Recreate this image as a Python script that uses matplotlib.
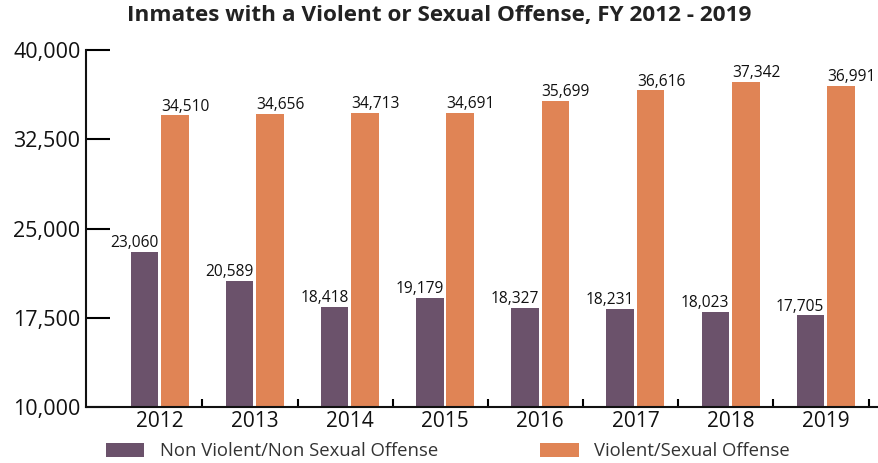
import matplotlib
matplotlib.use("Agg")
import matplotlib.pyplot as plt
import numpy as np

years = ["2012", "2013", "2014", "2015", "2016", "2017", "2018", "2019"]
non_violent = [23060, 20589, 18418, 19179, 18327, 18231, 18023, 17705]
violent = [34510, 34656, 34713, 34691, 35699, 36616, 37342, 36991]
y_ticks = [10000, 17500, 25000, 32500, 40000]

purple = "#6B526B"
orange = "#E08455"

plt.rcParams["font.family"] = ["Open Sans", "DejaVu Sans"]

fig = plt.figure(figsize=(8.79, 4.63), dpi=100)
ax = fig.add_axes([86 / 879, 1 - 407 / 463, 1 - 86 / 879, (407 - 50) / 463])

x = np.arange(len(years))
w = 0.29
gap = 0.015
b1 = ax.bar(x - w / 2 - gap, non_violent, width=w, color=purple,
            label="Non Violent/Non Sexual Offense", zorder=2)
b2 = ax.bar(x + w / 2 + gap, violent, width=w, color=orange,
            label="Violent/Sexual Offense", zorder=2)

for rect, v in zip(b1, non_violent):
    ax.annotate(f"{v:,}", (rect.get_x() + rect.get_width(), v),
                xytext=(0, 0.5), textcoords="offset points",
                ha="right", va="bottom", fontsize=11.2, color="#111111")
for rect, v in zip(b2, violent):
    ax.annotate(f"{v:,}", (rect.get_x(), v),
                xytext=(0, 0.5), textcoords="offset points",
                ha="left", va="bottom", fontsize=11.2, color="#111111",
                annotation_clip=False)

ax.set_ylim(10000, 40000)
ax.set_xlim(-0.773, 7.56)
ax.set_yticks(y_ticks)
ax.set_yticklabels([f"{t:,}" for t in y_ticks], fontsize=15.5, color="#111111")
ax.tick_params(axis="y", direction="in", length=17, width=1.5, pad=4)

# group separators as major ticks, year labels as minor ticks
ax.set_xticks(x + 0.45)
ax.set_xticklabels([])
ax.tick_params(axis="x", which="major", direction="in", length=6, width=1.5)
ax.set_xticks(x, minor=True)
ax.set_xticklabels(years, minor=True, fontsize=15, color="#111111")
ax.tick_params(axis="x", which="minor", length=0, pad=3)

for s in ["top", "right"]:
    ax.spines[s].set_visible(False)
for s in ["left", "bottom"]:
    ax.spines[s].set_linewidth(1.5)
    ax.spines[s].set_color("#111111")

fig.suptitle("Inmates with a Violent or Sexual Offense, FY 2012 - 2019",
             x=0.5, y=0.99, va="top", fontsize=16.2, fontweight="bold",
             color="#222222")

leg = fig.legend(handles=[b1, b2], loc="lower left", bbox_to_anchor=(89 / 879, -0.03),
                 ncol=2, frameon=False, fontsize=13.3, handlelength=2.1,
                 handleheight=0.8, handletextpad=0.85, columnspacing=5.5,
                 labelcolor="#333333")

fig.savefig("out.png", dpi=100)
